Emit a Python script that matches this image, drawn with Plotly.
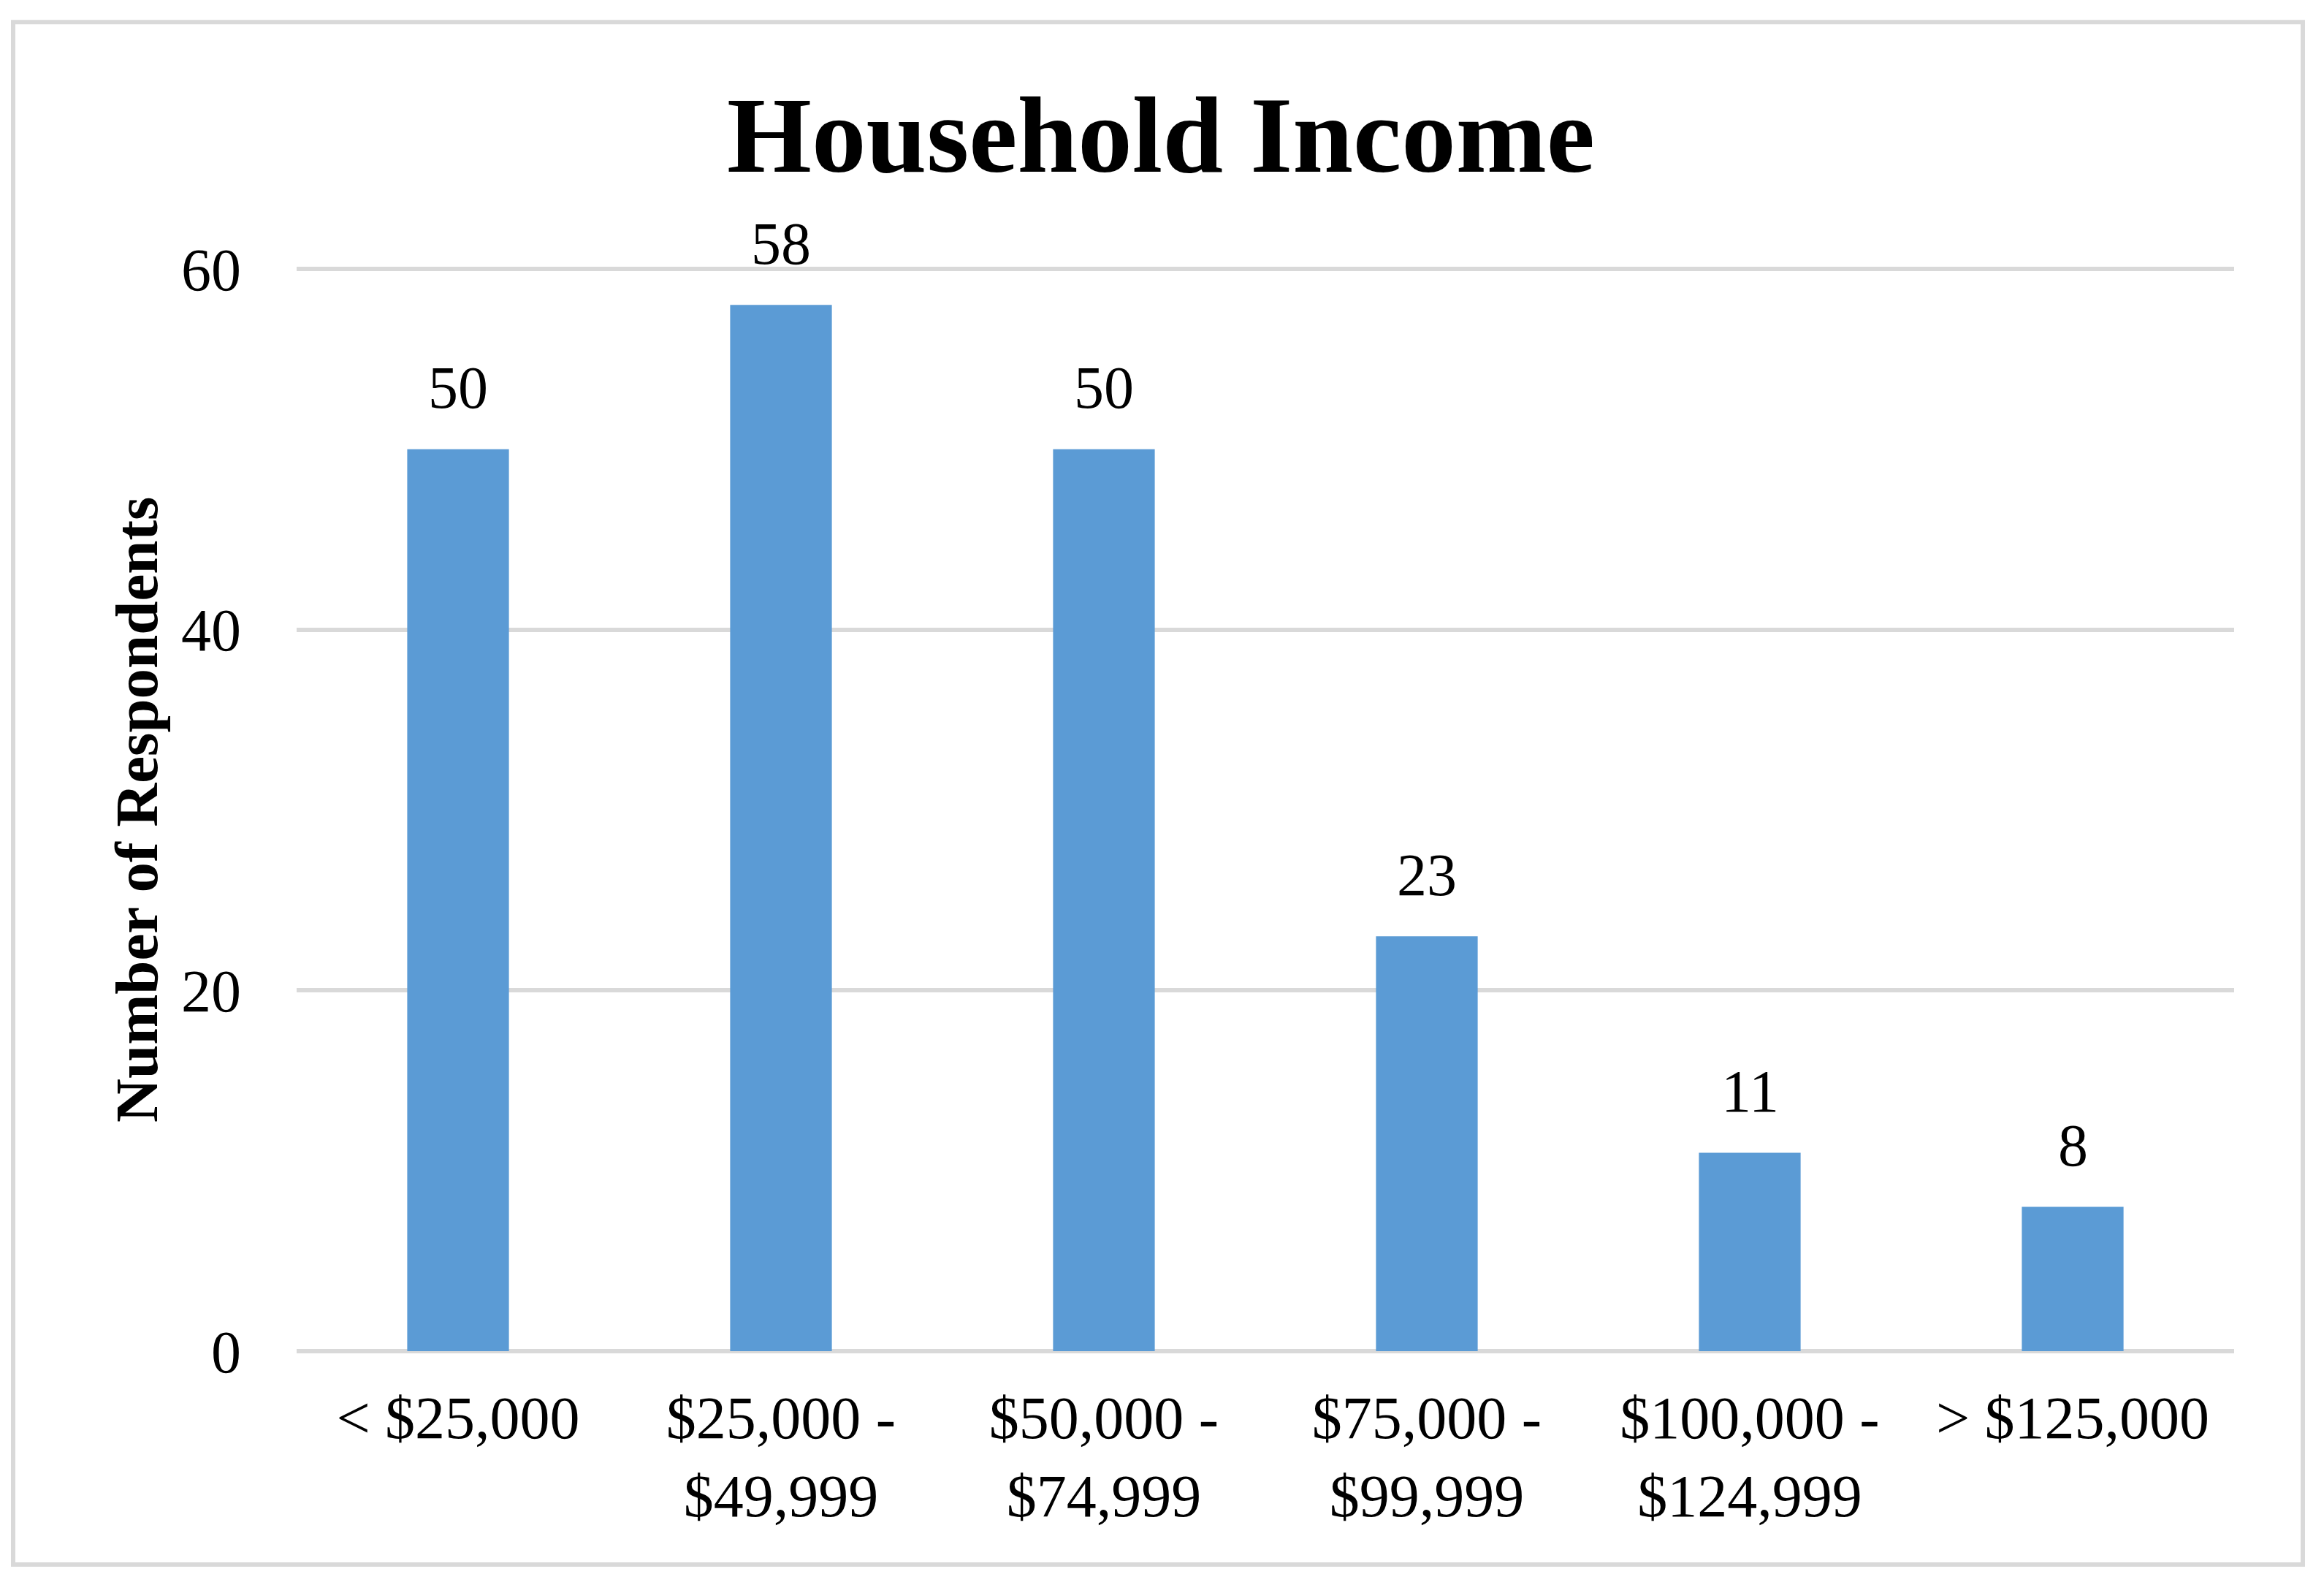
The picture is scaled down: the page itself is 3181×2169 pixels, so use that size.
import plotly.graph_objects as go

categories = ["< $25,000", "$25,000 -<br>$49,999", "$50,000 -<br>$74,999",
              "$75,000 -<br>$99,999", "$100,000 -<br>$124,999", "> $125,000"]
respondents = [50, 58, 50, 23, 11, 8]
y_ticks = [0, 20, 40, 60]

W, H = 3181, 2169
OFF = 8  # default body margin of the html page
Y_TOP = 60.6
# target page pixels of plot area
L, R = 406 - OFF, 3058 - OFF
B = 1849 - OFF
Y60 = 368 - OFF
ph = (B - Y60) * Y_TOP / 60
T = B - ph
pw = R - L

def px(x):
    return (x - OFF - L) / pw

def py(y):
    return (B - (y - OFF)) / ph

FONT = "Liberation Serif, Times New Roman, serif"
GRID = "#d9d9d9"

fig = go.Figure()
fig.add_trace(go.Bar(
    x=categories, y=respondents,
    marker=dict(color="#5b9bd5", line=dict(width=0)),
    hoverinfo="skip",
))

for c, v in zip(categories, respondents):
    fig.add_annotation(x=c, y=v, xref="x", yref="y", text=str(v),
                       showarrow=False, yanchor="middle", yshift=84,
                       font=dict(family=FONT, size=82, color="black"))

fig.add_annotation(text="<b>Number of Respondents</b>", textangle=-90,
                   xref="paper", yref="paper", x=px(187), y=py(1108),
                   xanchor="center", yanchor="middle", showarrow=False,
                   font=dict(family=FONT, size=83, color="black"))

fig.add_shape(type="rect", xref="paper", yref="paper",
              x0=px(18), x1=px(3152), y0=py(2141), y1=py(30.5),
              line=dict(color=GRID, width=6), fillcolor="rgba(0,0,0,0)", layer="below")

fig.update_layout(
    width=W, height=H,
    margin=dict(l=L, r=W - R, t=T, b=H - B, pad=0),
    paper_bgcolor="white", plot_bgcolor="white",
    showlegend=False,
    bargap=0.685,
    title=dict(text="<b>Household Income</b>", x=(1589 - OFF) / W, xanchor="center",
               y=1 - (183 - OFF) / H, yanchor="middle", yref="container",
               font=dict(family=FONT, size=149, color="black")),
    font=dict(family=FONT, size=82, color="black"),
    xaxis=dict(showgrid=False, showline=False, zeroline=False, ticks="",
               ticklabelstandoff=36,
               tickfont=dict(family=FONT, size=82, color="black")),
    yaxis=dict(range=[0, Y_TOP], tickvals=y_ticks, showgrid=True, gridcolor=GRID,
               gridwidth=6, zeroline=True, zerolinecolor=GRID, zerolinewidth=6,
               showline=False, ticks="", ticklabelstandoff=75,
               tickfont=dict(family=FONT, size=82, color="black")),
)

fig.write_html("out.html")
